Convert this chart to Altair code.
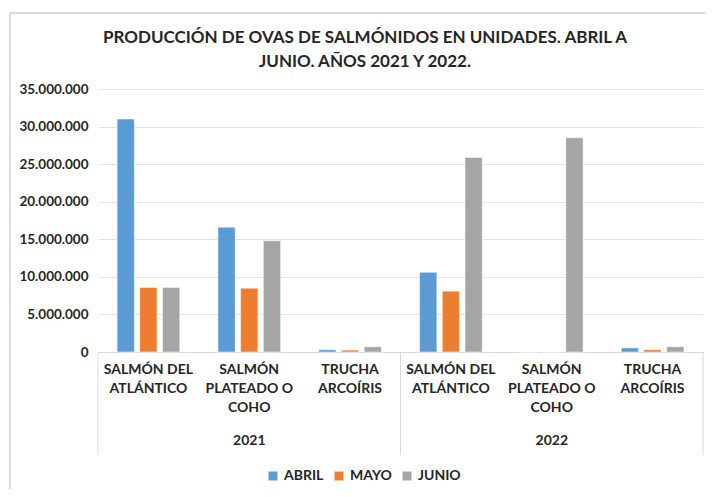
import altair as alt
import pandas as pd

years = ["2021", "2022"]
species = ["SALMÓN DEL ATLÁNTICO", "SALMÓN PLATEADO O COHO", "TRUCHA ARCOÍRIS"]
species_lines = ["SALMÓN DEL\nATLÁNTICO", "SALMÓN\nPLATEADO O\nCOHO", "TRUCHA\nARCOÍRIS"]
months = ["ABRIL", "MAYO", "JUNIO"]
colors = ["#5b9bd5", "#ed7d31", "#a5a5a5"]
title_lines = ["PRODUCCIÓN DE OVAS DE SALMÓNIDOS EN UNIDADES. ABRIL A",
               "JUNIO. AÑOS 2021 Y 2022."]

# order: 2021 x3 species, 2022 x3 species
abril = [31000000, 16600000, 300000, 10600000, 0, 550000]
mayo = [8600000, 8500000, 250000, 8100000, 0, 300000]
junio = [8600000, 14800000, 700000, 25900000, 28500000, 700000]

keys = [f"{y}|{s}" for y in years for s in species_lines]
rows = []
for i, k in enumerate(keys):
    for m, vals in zip(months, [abril, mayo, junio]):
        rows.append({"key": k, "mes": m, "valor": vals[i]})
df = pd.DataFrame(rows)

W, H = 605, 263
FONT = "Lato"
TXT = "#262626"

xscale = alt.Scale(domain=keys, paddingInner=0, paddingOuter=0)

bars = alt.Chart(df).mark_bar(stroke="white", strokeWidth=0.5).encode(
    x=alt.X("key:N", scale=xscale, sort=keys,
            axis=alt.Axis(title=None, labelAngle=0, ticks=False, domainColor="#d9d9d9",
                          labelExpr="split(split(datum.value, '|')[1], '\\n')",
                          labelFont=FONT, labelFontSize=14, labelFontWeight="bold",
                          labelColor=TXT, labelPadding=10, labelLineHeight=19,
                          labelBaseline="top")),
    xOffset=alt.XOffset("mes:N", sort=months,
                        scale=alt.Scale(domain=months, paddingInner=0.24, paddingOuter=0.84)),
    y=alt.Y("valor:Q", scale=alt.Scale(domain=[0, 35000000]),
            axis=alt.Axis(title=None, values=list(range(0, 35000001, 5000000)),
                          labelExpr="replace(format(datum.value, ','), regexp(',', 'g'), '.')",
                          ticks=False, domain=False, gridColor="#e3e3e3",
                          labelFont=FONT, labelFontSize=13.5, labelFontWeight="bold",
                          labelColor=TXT, labelPadding=10)),
    color=alt.Color("mes:N", sort=months, scale=alt.Scale(domain=months, range=colors),
                    legend=alt.Legend(title=None, orient="none", direction="horizontal",
                                      legendX=168, legendY=380, symbolType="square",
                                      symbolSize=80, symbolStrokeWidth=0,
                                      labelFont=FONT, labelFontSize=14,
                                      labelFontWeight="bold", labelColor=TXT,
                                      columnPadding=8, labelOffset=4)),
)

sep_start = pd.DataFrame({"key": [keys[0], keys[3]]})
sep_end = pd.DataFrame({"key": [keys[5]]})
rule_start = alt.Chart(sep_start).mark_rule(color="#d9d9d9").encode(
    x=alt.X("key:N", scale=xscale, bandPosition=0),
    y=alt.value(H), y2=alt.value(H + 103))
rule_end = alt.Chart(sep_end).mark_rule(color="#d9d9d9").encode(
    x=alt.X("key:N", scale=xscale, bandPosition=1),
    y=alt.value(H), y2=alt.value(H + 103))

year_df = pd.DataFrame({"key": [keys[1], keys[4]], "year": years})
year_text = alt.Chart(year_df).mark_text(
    font=FONT, fontSize=14, fontWeight="bold", color=TXT, baseline="middle"
).encode(x=alt.X("key:N", scale=xscale), y=alt.value(H + 89), text="year:N")

title_df = pd.DataFrame({"t": title_lines, "dy": [-51, -27]})
title_text = alt.Chart(title_df).mark_text(
    font=FONT, fontSize=17, fontWeight="bold", color=TXT, baseline="middle", align="center"
).encode(x=alt.value(267), y=alt.Y("dy:Q", scale=None), text="t:N")

frame = alt.Chart(pd.DataFrame({"a": [0]})).mark_rect(
    fill=None, stroke="#d0d0d0", strokeWidth=1.5
).encode(x=alt.value(-88), x2=alt.value(W + 30), y=alt.value(-76), y2=alt.value(H + 200))

chart = alt.layer(frame, bars, rule_start, rule_end, year_text, title_text).properties(
    width=W, height=H,
    autosize=alt.AutoSizeParams(type="none"),
    padding={"left": 90, "top": 81, "right": 2, "bottom": 137},
).configure_view(stroke=None)

chart.save("out.html", embed_options={"renderer": "svg", "actions": False})
